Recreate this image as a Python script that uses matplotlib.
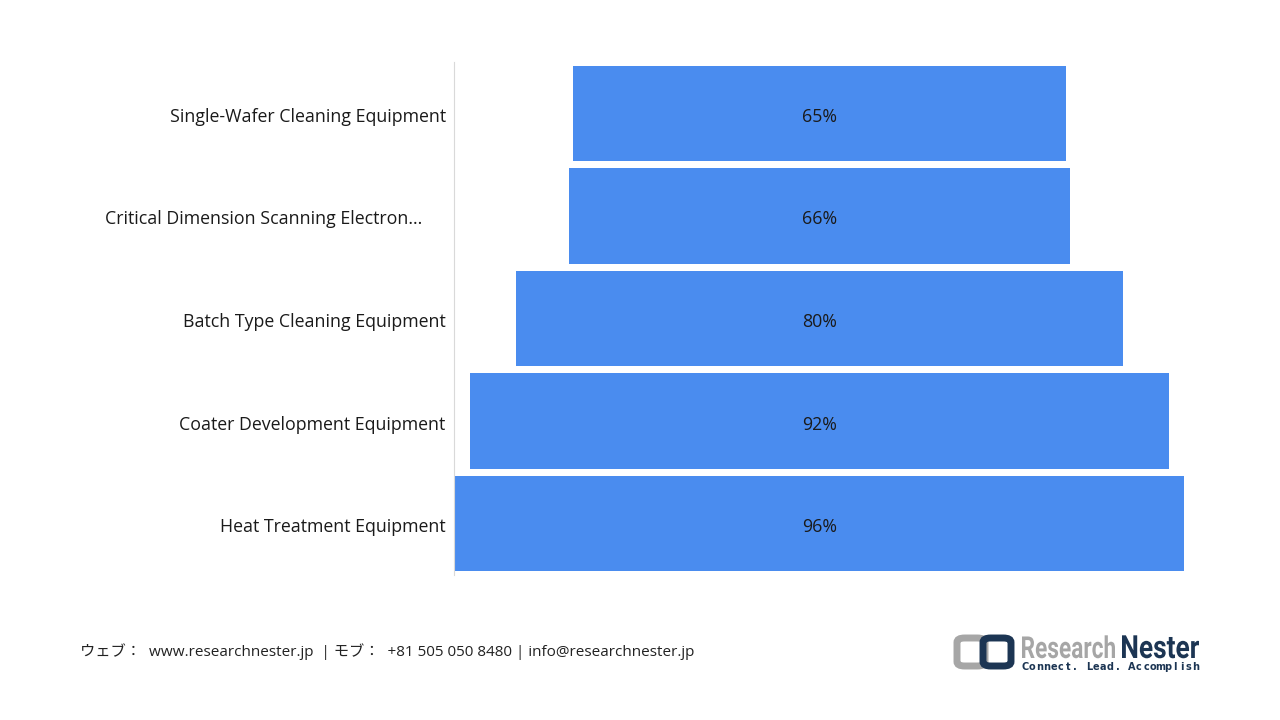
import matplotlib.pyplot as plt
from matplotlib.patches import FancyBboxPatch, PathPatch
from matplotlib.textpath import TextPath
from matplotlib.font_manager import FontProperties
from matplotlib.transforms import Affine2D, IdentityTransform

plt.rcParams['font.family'] = ['Open Sans', 'Noto Sans CJK JP', 'DejaVu Sans']

categories = ['Single-Wafer Cleaning Equipment',
              'Critical Dimension Scanning Electron...',
              'Batch Type Cleaning Equipment',
              'Coater Development Equipment',
              'Heat Treatment Equipment']
values = [65, 66, 80, 92, 96]

fig = plt.figure(figsize=(12.8, 7.2), dpi=100)
ax = fig.add_axes([454 / 1280, 1 - 575 / 720, 731 / 1280, 513 / 720])

ypos = list(range(len(values)))[::-1]
lefts = [-v / 2 for v in values]
ax.barh(ypos, values, left=lefts, height=0.93, color='#4A8CEF')
for y, v in zip(ypos, values):
    ax.text(0, y - 0.015, f'{v}%', ha='center', va='center_baseline', fontsize=12.8, color='#1a1a1a')

ax.set_xlim(-48.1, 48.1)
ax.set_ylim(-0.5, 4.5)
ax.set_yticks([y - 0.015 for y in ypos])
labels = [c if not c.endswith('...') else c + '     ' for c in categories]
ax.set_yticklabels(labels, fontsize=12.8, color='#1a1a1a', va='center_baseline')
ax.tick_params(axis='y', length=0, pad=6)
ax.set_xticks([])
for s in ['top', 'right', 'bottom']:
    ax.spines[s].set_visible(False)
ax.spines['left'].set_color('#d9d9d9')

# footer
fig.text(80 / 1280, 1 - 652 / 720,
         'ウェブ：  www.researchnester.jp  | モブ：  +81 505 050 8480 | info@researchnester.jp',
         fontsize=11, color='#222222', va='center', ha='left')

# logo
gray = '#a6a6a6'
navy = '#1c3553'
fig.patches.append(FancyBboxPatch((957 / 1280, 1 - 666 / 720), 28 / 1280, 28 / 720,
                                  boxstyle='round,pad=0,rounding_size=0.006',
                                  fc='none', ec=gray, lw=5, transform=fig.transFigure))
fig.patches.append(FancyBboxPatch((983 / 1280, 1 - 666 / 720), 28 / 1280, 28 / 720,
                                  boxstyle='round,pad=0,rounding_size=0.006',
                                  fc='none', ec=navy, lw=5, transform=fig.transFigure))

bold = FontProperties(family='Roboto', weight='bold')


def word(s, x0, x1, base, cap, color):
    path = TextPath((0, 0), s, size=40, prop=bold)
    ext = path.get_extents()
    tr = (Affine2D().translate(-ext.x0, 0)
          .scale((x1 - x0) / ext.width, cap / ext.height)
          .translate(x0, 720 - base))
    fig.patches.append(PathPatch(tr.transform_path(path), fc=color, ec='none',
                                 transform=IdentityTransform()))


word('Research', 1022, 1115, 658, 23, gray)
word('Nester', 1122, 1199, 658, 23, navy)

tagline = 'Connect. Lead. Accomplish'
x0, x1 = 1025, 1196
step = (x1 - x0) / (len(tagline) - 1)
for i, ch in enumerate(tagline):
    fig.text((x0 + i * step) / 1280, 1 - 667 / 720, ch, fontsize=7, color=navy,
             fontweight='bold', family='DejaVu Sans', va='center', ha='center')

fig.savefig('out.png', dpi=100, facecolor='white')
